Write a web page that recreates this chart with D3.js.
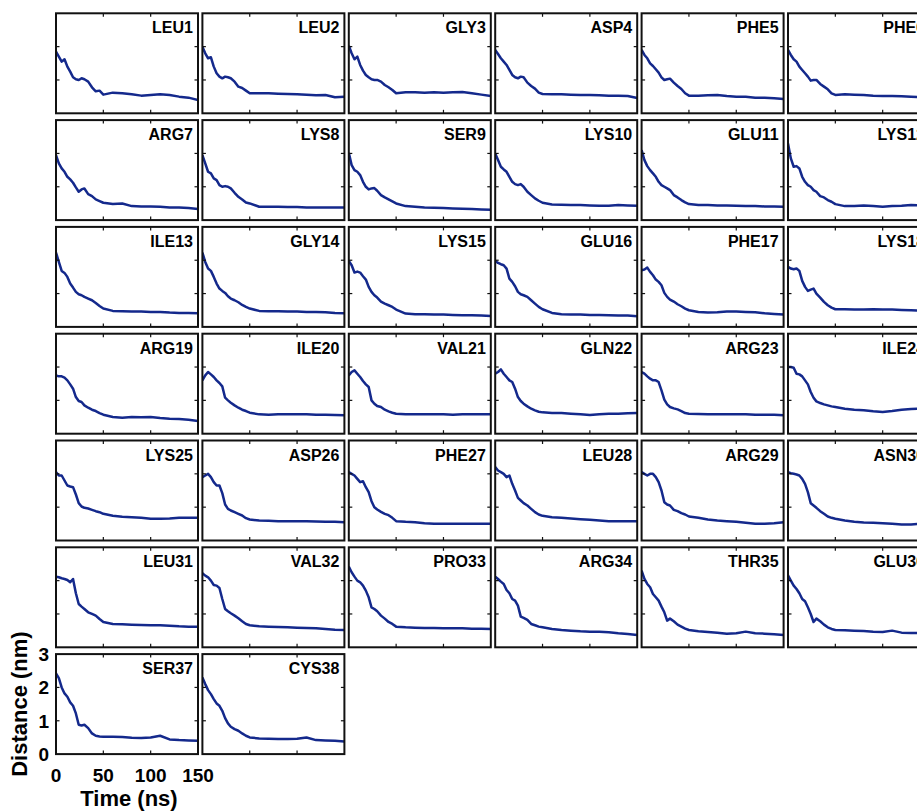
<!DOCTYPE html>
<html><head><meta charset="utf-8">
<script src="https://cdn.jsdelivr.net/npm/d3@7/dist/d3.min.js"></script>
<style>html,body{margin:0;padding:0;background:#fff;overflow:hidden}</style>
</head><body>
<script>
const times = [0,3,6,9,12,15,18,21,24,27,30,34,38,42,46,50,60,70,80,90,100,110,120,130,140,150];
const residues = ["LEU1","LEU2","GLY3","ASP4","PHE5","PHE6","ARG7","LYS8","SER9","LYS10","GLU11","LYS12","ILE13","GLY14","LYS15","GLU16","PHE17","LYS18","ARG19","ILE20","VAL21","GLN22","ARG23","ILE24","LYS25","ASP26","PHE27","LEU28","ARG29","ASN30","LEU31","VAL32","PRO33","ARG34","THR35","GLU36","SER37","CYS38"];
const xTicks = [0,50,100,150];
const yTicks = [0,1,2,3];

const LEU1 = [1.85,1.7,1.55,1.62,1.4,1.25,1.08,1.02,1.0,1.05,1.02,0.95,0.78,0.66,0.68,0.56,0.62,0.6,0.57,0.53,0.55,0.57,0.55,0.5,0.47,0.4];
const LEU2 = [2.0,1.8,1.65,1.68,1.4,1.2,1.1,1.05,1.1,1.08,1.05,0.95,0.8,0.76,0.68,0.6,0.6,0.6,0.59,0.58,0.57,0.56,0.54,0.55,0.48,0.5];
const GLY3 = [2.03,1.8,1.62,1.7,1.45,1.28,1.15,1.08,1.02,1.0,1.0,0.95,0.85,0.78,0.7,0.6,0.63,0.63,0.62,0.63,0.62,0.63,0.64,0.6,0.56,0.52];
const ASP4 = [1.9,1.78,1.65,1.55,1.45,1.3,1.15,1.08,1.05,1.1,1.08,0.92,0.82,0.74,0.62,0.58,0.57,0.57,0.56,0.55,0.55,0.54,0.53,0.53,0.52,0.46];
const PHE5 = [1.9,1.75,1.65,1.5,1.42,1.32,1.22,1.08,1.0,1.02,1.04,0.92,0.82,0.73,0.6,0.53,0.53,0.54,0.55,0.52,0.5,0.5,0.47,0.47,0.45,0.43];
const PHE6 = [1.9,1.75,1.62,1.55,1.4,1.3,1.2,1.1,0.98,1.0,1.0,0.88,0.8,0.72,0.6,0.55,0.57,0.56,0.55,0.53,0.52,0.52,0.51,0.5,0.48,0.46];
const ARG7 = [1.95,1.7,1.55,1.45,1.3,1.22,1.12,0.98,0.85,0.92,0.95,0.78,0.72,0.62,0.57,0.52,0.48,0.5,0.42,0.41,0.41,0.4,0.38,0.38,0.36,0.33];
const LYS8 = [1.95,1.7,1.45,1.4,1.25,1.2,1.05,1.0,1.02,1.0,0.95,0.82,0.7,0.62,0.53,0.5,0.4,0.4,0.4,0.39,0.39,0.38,0.38,0.38,0.38,0.38];
const SER9 = [2.02,1.65,1.5,1.45,1.35,1.15,1.0,0.92,0.95,0.96,0.88,0.75,0.68,0.62,0.56,0.5,0.42,0.4,0.38,0.37,0.36,0.35,0.34,0.33,0.32,0.31];
const LYS10 = [2.0,1.8,1.6,1.52,1.45,1.3,1.15,1.08,1.05,1.08,1.0,0.85,0.75,0.65,0.58,0.52,0.47,0.46,0.45,0.45,0.44,0.43,0.43,0.45,0.44,0.43];
const GLU11 = [2.1,1.8,1.62,1.5,1.4,1.3,1.15,1.05,1.0,0.95,0.9,0.75,0.68,0.6,0.53,0.48,0.45,0.45,0.44,0.44,0.43,0.42,0.42,0.41,0.41,0.4];
const LYS12 = [2.3,1.85,1.6,1.62,1.55,1.3,1.15,1.05,1.0,0.9,0.85,0.72,0.68,0.6,0.55,0.48,0.42,0.42,0.44,0.42,0.4,0.42,0.43,0.45,0.44,0.43];
const ILE13 = [2.23,1.95,1.68,1.62,1.5,1.3,1.18,1.05,0.98,0.95,0.9,0.85,0.8,0.72,0.63,0.55,0.48,0.47,0.46,0.46,0.45,0.45,0.43,0.42,0.42,0.41];
const GLY14 = [2.23,1.95,1.75,1.68,1.5,1.3,1.15,1.08,1.02,0.92,0.85,0.8,0.74,0.66,0.6,0.55,0.48,0.47,0.47,0.46,0.46,0.45,0.45,0.44,0.42,0.41];
const LYS15 = [1.98,1.85,1.63,1.66,1.63,1.52,1.42,1.2,1.05,0.95,0.88,0.76,0.7,0.65,0.6,0.52,0.4,0.38,0.38,0.37,0.37,0.36,0.35,0.35,0.34,0.33];
const GLU16 = [1.98,1.92,1.88,1.85,1.75,1.45,1.35,1.22,1.05,0.98,0.95,0.9,0.8,0.7,0.6,0.53,0.42,0.38,0.37,0.37,0.36,0.36,0.35,0.34,0.34,0.32];
const PHE17 = [1.7,1.72,1.78,1.65,1.55,1.42,1.35,1.25,1.02,0.9,0.82,0.76,0.68,0.62,0.55,0.5,0.45,0.43,0.44,0.46,0.46,0.45,0.44,0.41,0.39,0.37];
const LYS18 = [1.8,1.75,1.73,1.75,1.68,1.38,1.2,1.08,1.12,1.15,1.0,0.88,0.75,0.65,0.58,0.53,0.53,0.52,0.52,0.53,0.52,0.52,0.51,0.5,0.49,0.48];
const ARG19 = [1.75,1.72,1.72,1.68,1.6,1.48,1.35,1.1,0.98,0.95,0.85,0.78,0.72,0.68,0.62,0.57,0.5,0.48,0.5,0.49,0.5,0.47,0.45,0.44,0.42,0.38];
const ILE20 = [1.6,1.75,1.85,1.78,1.7,1.6,1.52,1.42,1.08,1.0,0.93,0.85,0.78,0.72,0.68,0.63,0.58,0.57,0.58,0.58,0.58,0.58,0.57,0.57,0.56,0.55];
const VAL21 = [1.75,1.85,1.9,1.8,1.7,1.58,1.48,1.4,1.0,0.9,0.83,0.8,0.72,0.67,0.63,0.6,0.58,0.58,0.58,0.58,0.58,0.57,0.58,0.58,0.58,0.58];
const GLN22 = [1.8,1.85,1.93,1.8,1.7,1.6,1.55,1.35,1.1,0.98,0.9,0.82,0.75,0.7,0.66,0.64,0.62,0.62,0.6,0.58,0.56,0.58,0.6,0.6,0.61,0.62];
const ARG23 = [1.85,1.8,1.72,1.65,1.6,1.6,1.55,1.3,1.02,0.88,0.8,0.76,0.73,0.68,0.62,0.6,0.59,0.58,0.58,0.58,0.58,0.58,0.57,0.57,0.57,0.55];
const ILE24 = [2.0,2.0,1.98,1.8,1.78,1.72,1.6,1.48,1.25,1.08,0.97,0.92,0.88,0.85,0.82,0.8,0.75,0.72,0.7,0.67,0.65,0.68,0.72,0.74,0.75,0.74];
const LYS25 = [2.05,1.95,1.95,1.8,1.65,1.62,1.6,1.38,1.12,1.02,0.98,0.96,0.92,0.88,0.85,0.8,0.74,0.71,0.7,0.68,0.65,0.65,0.66,0.68,0.68,0.68];
const ASP26 = [1.9,1.95,2.0,1.9,1.75,1.65,1.65,1.42,1.08,0.95,0.9,0.85,0.8,0.75,0.67,0.63,0.6,0.59,0.58,0.58,0.58,0.58,0.57,0.56,0.56,0.55];
const PHE27 = [2.05,2.0,1.95,1.85,1.75,1.78,1.6,1.45,1.18,1.0,0.93,0.86,0.8,0.76,0.68,0.58,0.56,0.55,0.52,0.5,0.5,0.5,0.5,0.5,0.5,0.5];
const LEU28 = [2.2,2.1,2.05,2.0,1.9,1.95,1.7,1.5,1.28,1.2,1.12,1.05,0.95,0.85,0.78,0.74,0.7,0.68,0.66,0.64,0.62,0.6,0.58,0.58,0.58,0.58];
const ARG29 = [2.05,2.0,1.95,2.0,2.0,1.9,1.75,1.5,1.15,1.08,1.05,0.92,0.88,0.82,0.78,0.72,0.68,0.63,0.6,0.58,0.56,0.53,0.5,0.5,0.52,0.55];
const ASN30 = [2.05,2.02,2.0,1.98,1.95,1.85,1.7,1.45,1.12,1.05,0.98,0.88,0.8,0.72,0.68,0.65,0.6,0.56,0.54,0.53,0.52,0.5,0.48,0.48,0.5,0.5];
const LEU31 = [2.12,2.1,2.07,2.05,2.02,1.95,2.05,1.62,1.3,1.22,1.15,1.05,1.0,0.95,0.85,0.76,0.7,0.69,0.68,0.67,0.66,0.66,0.65,0.63,0.62,0.62];
const VAL32 = [2.22,2.15,2.1,2.0,1.87,1.85,1.78,1.45,1.15,1.08,1.02,0.95,0.87,0.78,0.7,0.66,0.63,0.62,0.61,0.6,0.59,0.58,0.57,0.55,0.53,0.52];
const PRO33 = [2.42,2.25,2.12,2.0,1.95,1.85,1.7,1.5,1.2,1.15,1.08,0.95,0.86,0.76,0.7,0.62,0.6,0.59,0.58,0.58,0.57,0.57,0.57,0.56,0.56,0.55];
const ARG34 = [2.12,2.05,1.97,1.9,1.72,1.62,1.45,1.4,1.25,0.92,0.88,0.82,0.7,0.66,0.62,0.6,0.55,0.52,0.5,0.48,0.47,0.47,0.45,0.42,0.4,0.37];
const THR35 = [2.3,2.05,1.9,1.8,1.6,1.5,1.4,1.22,1.05,0.8,0.86,0.78,0.68,0.62,0.56,0.52,0.48,0.46,0.44,0.41,0.42,0.47,0.42,0.41,0.39,0.37];
const GLU36 = [2.16,2.0,1.85,1.75,1.62,1.45,1.38,1.2,1.0,0.76,0.86,0.78,0.68,0.6,0.55,0.52,0.51,0.5,0.49,0.47,0.46,0.5,0.44,0.43,0.43,0.43];
const SER37 = [2.42,2.28,2.0,1.82,1.72,1.55,1.45,1.22,0.88,0.86,0.88,0.78,0.62,0.55,0.53,0.52,0.52,0.51,0.49,0.48,0.5,0.55,0.44,0.42,0.41,0.4];
const CYS38 = [2.3,2.1,1.92,1.8,1.65,1.52,1.45,1.3,1.08,0.92,0.82,0.75,0.7,0.62,0.55,0.5,0.47,0.46,0.45,0.45,0.46,0.5,0.42,0.41,0.4,0.38];

const seriesValues = [LEU1,LEU2,GLY3,ASP4,PHE5,PHE6,ARG7,LYS8,SER9,LYS10,GLU11,LYS12,ILE13,GLY14,LYS15,GLU16,PHE17,LYS18,ARG19,ILE20,VAL21,GLN22,ARG23,ILE24,LYS25,ASP26,PHE27,LEU28,ARG29,ASN30,LEU31,VAL32,PRO33,ARG34,THR35,GLU36,SER37,CYS38];

const W = 917, H = 812;
const nCols = 6;
const panelW = 142, panelH = 100;
const left0 = 56, top0 = 13.3, stepX = 146.4, stepY = 106.8;
const lineColor = "#14298c";
const font = "'Liberation Sans', Arial, Helvetica, sans-serif";

const svg = d3.select("body").append("svg").attr("width", W).attr("height", H)
  .style("display","block").style("background","#fff");

const x = d3.scaleLinear().domain([0,150]).range([0,panelW]);
const y = d3.scaleLinear().domain([0,3]).range([panelH,0]);
const line = d3.line().x((d,i)=>x(times[i])).y(d=>y(d));

svg.append("defs").append("clipPath").attr("id","pclip")
  .append("rect").attr("width",panelW).attr("height",panelH);

residues.forEach((name, k) => {
  const col = k % nCols, row = Math.floor(k / nCols);
  const g = svg.append("g").attr("transform", `translate(${left0 + col*stepX},${top0 + row*stepY})`);
  g.append("path").datum(seriesValues[k]).attr("d", line)
    .attr("clip-path","url(#pclip)")
    .attr("fill","none").attr("stroke",lineColor).attr("stroke-width",2.5)
    .attr("stroke-linejoin","round");
  const tl = 3.5;
  [50,100].forEach(t => {
    g.append("line").attr("x1",x(t)).attr("x2",x(t)).attr("y1",panelH).attr("y2",panelH-tl).attr("stroke","#111").attr("stroke-width",1.2);
    g.append("line").attr("x1",x(t)).attr("x2",x(t)).attr("y1",0).attr("y2",tl).attr("stroke","#111").attr("stroke-width",1.2);
  });
  [1,2].forEach(t => {
    g.append("line").attr("x1",0).attr("x2",tl).attr("y1",y(t)).attr("y2",y(t)).attr("stroke","#111").attr("stroke-width",1.2);
    g.append("line").attr("x1",panelW).attr("x2",panelW-tl).attr("y1",y(t)).attr("y2",y(t)).attr("stroke","#111").attr("stroke-width",1.2);
  });
  g.append("rect").attr("width",panelW).attr("height",panelH)
    .attr("fill","none").attr("stroke","#111").attr("stroke-width",2);
  g.append("text").attr("x",panelW-5).attr("y",20).attr("text-anchor","end")
    .attr("font-family",font).attr("font-weight","bold").attr("font-size",16)
    .attr("fill","#000").text(name);

  if (k === 36) {
    g.selectAll(".xl").data(xTicks).enter().append("text")
      .attr("x", d=>x(d)).attr("y", panelH+28).attr("text-anchor","middle")
      .attr("font-family",font).attr("font-weight","bold").attr("font-size",19)
      .text(d=>d);
    g.selectAll(".yl").data(yTicks).enter().append("text")
      .attr("x", -7).attr("y", d=>y(d)+7).attr("text-anchor","end")
      .attr("font-family",font).attr("font-weight","bold").attr("font-size",19)
      .text(d=>d);
    g.append("text").attr("x", panelW/2 + 2).attr("y", panelH+52).attr("text-anchor","middle")
      .attr("font-family",font).attr("font-weight","bold").attr("font-size",22)
      .text("Time (ns)");
    g.append("text").attr("transform", `translate(${-29},${panelH/2}) rotate(-90)`)
      .attr("text-anchor","middle")
      .attr("font-family",font).attr("font-weight","bold").attr("font-size",22)
      .text("Distance (nm)");
  }
});
</script>
</body></html>
